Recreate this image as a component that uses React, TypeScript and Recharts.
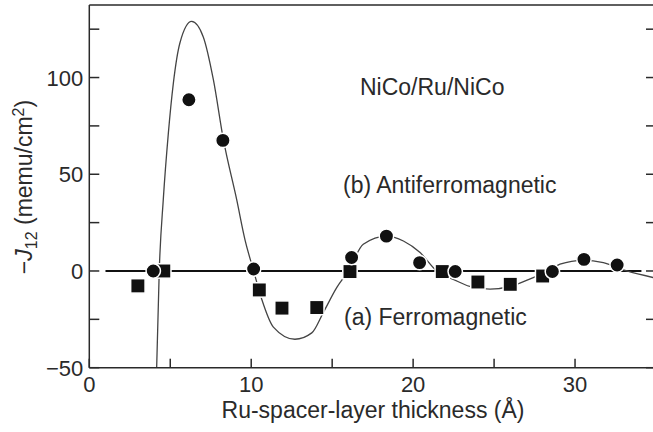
import { ComposedChart, Line, Scatter, XAxis, YAxis, ReferenceLine } from 'recharts';

// (a) ferromagnetic samples, squares
const ferroX = [3.0, 4.6, 10.5, 11.9, 14.05, 16.1, 21.8, 24.0, 26.0, 28.0];
const ferroJ = [-7.7, 0, -9.8, -19.2, -18.9, -0.3, -0.3, -5.7, -6.9, -2.6];

// (b) antiferromagnetic samples, circles
const antiX = [3.95, 6.15, 8.25, 10.15, 16.2, 18.35, 20.4, 22.6, 28.6, 30.55, 32.6];
const antiJ = [0, 88.5, 67.5, 1, 7, 18, 4.3, -0.3, -0.3, 6, 3.1];

// fitted oscillation curve
const fitX = [4.16, 4.32, 4.57, 4.88, 5.19, 5.6, 6.32, 7.04, 7.66, 8.28, 9.1, 9.62, 10.15, 10.65, 11.37, 12.7, 13.74, 14.45, 15.28, 16.0, 16.92, 18.37, 19.4, 20.43, 21.46, 22.48, 23.5, 24.75, 25.99, 27.42, 28.45, 29.07, 30.5, 31.75, 33.2, 34.84];
const fitJ = [-50, 0, 37, 71, 97, 118, 129, 121, 99, 68, 37, 16, 0, -14.6, -29, -35.3, -32, -21.5, -8.6, 0, 13.8, 18, 15.5, 9.5, 0, -4.3, -8, -9.4, -8, -3.4, 0, 3.5, 5.5, 4.3, 0, -3.4];

const xTicks = [0, 5, 10, 15, 20, 25, 30, 35];
const yTicks = [-50, -25, 0, 25, 50, 75, 100, 125];
const zeroLineFrom = 1;
const zeroLineTo = 34.1;

const ferro = ferroX.map((x, i) => ({ x, y: ferroJ[i] }));
const anti = antiX.map((x, i) => ({ x, y: antiJ[i] }));
const fit = fitX.map((x, i) => ({ x, y: fitJ[i] }));

const ink = '#2a2a2a';
const font = '"Liberation Sans", Arial, sans-serif';
const TICK = 9;

const BottomTick = (props: any) => {
  const { x, y, payload } = props;
  const v = payload.value;
  return (
    <g>
      <line x1={x} y1={y} x2={x} y2={y - TICK} stroke={ink} strokeWidth={1.5} />
      {v % 10 === 0 && (
        <text x={x} y={y + 24} textAnchor="middle" fontSize={22} fill={ink} fontFamily={font}>
          {v}
        </text>
      )}
    </g>
  );
};

const LeftTick = (props: any) => {
  const { x, y, payload } = props;
  const v = payload.value;
  return (
    <g>
      <line x1={x} y1={y} x2={x + TICK + 1} y2={y} stroke={ink} strokeWidth={1.5} />
      {v % 50 === 0 && (
        <text x={x - 6} y={y + 8} textAnchor="end" fontSize={22} fill={ink} fontFamily={font}>
          {v < 0 ? '\u2212' + Math.abs(v) : v}
        </text>
      )}
    </g>
  );
};

const TopTick = (props: any) => {
  const { x, y } = props;
  return <line x1={x} y1={y} x2={x} y2={y + TICK} stroke={ink} strokeWidth={1.5} />;
};

const RightTick = (props: any) => {
  const { x, y } = props;
  return <line x1={x} y1={y} x2={x - TICK - 1} y2={y} stroke={ink} strokeWidth={1.5} />;
};

const Dot = (props: any) => (
  <circle cx={props.cx} cy={props.cy} r={7.2} fill="#111" stroke="#fff" strokeWidth={1.5} />
);

const Square = (props: any) => (
  <rect x={props.cx - 7.2} y={props.cy - 7.2} width={14.4} height={14.4} fill="#111" stroke="#fff" strokeWidth={1.5} />
);

export default function App() {
  return (
    <div style={{ position: 'absolute', left: 0, top: 0, width: 653, height: 432, overflow: 'hidden', background: '#fff' }}>
      <ComposedChart width={660} height={432} margin={{ top: 4, right: 3, bottom: 34.3, left: 59.3 }}>
        <XAxis
          xAxisId="b"
          dataKey="x"
          type="number"
          domain={[0, 35]}
          allowDataOverflow
          ticks={xTicks}
          interval={0}
          height={30}
          tickSize={0}
          tickMargin={0}
          tickLine={false}
          tick={BottomTick}
          axisLine={{ stroke: ink, strokeWidth: 1.5 }}
        />
        <XAxis
          xAxisId="t"
          orientation="top"
          type="number"
          domain={[0, 35]}
          allowDataOverflow
          ticks={xTicks}
          interval={0}
          height={1}
          tickSize={0}
          tickMargin={0}
          tickLine={false}
          tick={TopTick}
          axisLine={{ stroke: ink, strokeWidth: 1.5 }}
        />
        <YAxis
          yAxisId="l"
          dataKey="y"
          type="number"
          domain={[-50, 137.5]}
          allowDataOverflow
          ticks={yTicks}
          interval={0}
          width={30}
          tickSize={0}
          tickMargin={0}
          tickLine={false}
          tick={LeftTick}
          axisLine={{ stroke: ink, strokeWidth: 1.5 }}
        />
        <YAxis
          yAxisId="r"
          orientation="right"
          type="number"
          domain={[-50, 137.5]}
          allowDataOverflow
          ticks={yTicks}
          interval={0}
          width={1}
          tickSize={0}
          tickMargin={0}
          tickLine={false}
          tick={RightTick}
          axisLine={{ stroke: ink, strokeWidth: 1.5 }}
        />
        <ReferenceLine
          xAxisId="b"
          yAxisId="l"
          segment={[{ x: zeroLineFrom, y: 0 }, { x: zeroLineTo, y: 0 }]}
          stroke="#111"
          strokeWidth={2}
        />
        <Line
          xAxisId="b"
          yAxisId="l"
          data={fit}
          dataKey="y"
          type="monotone"
          stroke="#444"
          strokeWidth={1.3}
          dot={false}
          activeDot={false}
          isAnimationActive={false}
        />
        <Scatter xAxisId="b" yAxisId="l" data={ferro} shape={Square} isAnimationActive={false} />
        <Scatter xAxisId="b" yAxisId="l" data={anti} shape={Dot} isAnimationActive={false} />
      </ComposedChart>
      <svg width={653} height={432} style={{ position: 'absolute', left: 0, top: 0, pointerEvents: 'none' }}>
        <g fontFamily={font} fill={ink}>
          <text x={360} y={95} fontSize={23}>NiCo/Ru/NiCo</text>
          <text x={343} y={193} fontSize={23}>(b) Antiferromagnetic</text>
          <text x={344} y={325} fontSize={23}>(a) Ferromagnetic</text>
          <text x={373} y={418} fontSize={23} textAnchor="middle">Ru-spacer-layer thickness (Å)</text>
          <text transform="translate(32,187) rotate(-90)" fontSize={23} textAnchor="middle">
            {'\u2212'}
            <tspan fontStyle="italic">J</tspan>
            <tspan fontSize={16} dy={5}>12</tspan>
            <tspan dy={-5}> (memu/cm</tspan>
            <tspan fontSize={16} dy={-8}>2</tspan>
            <tspan dy={8}>)</tspan>
          </text>
        </g>
      </svg>
    </div>
  );
}
